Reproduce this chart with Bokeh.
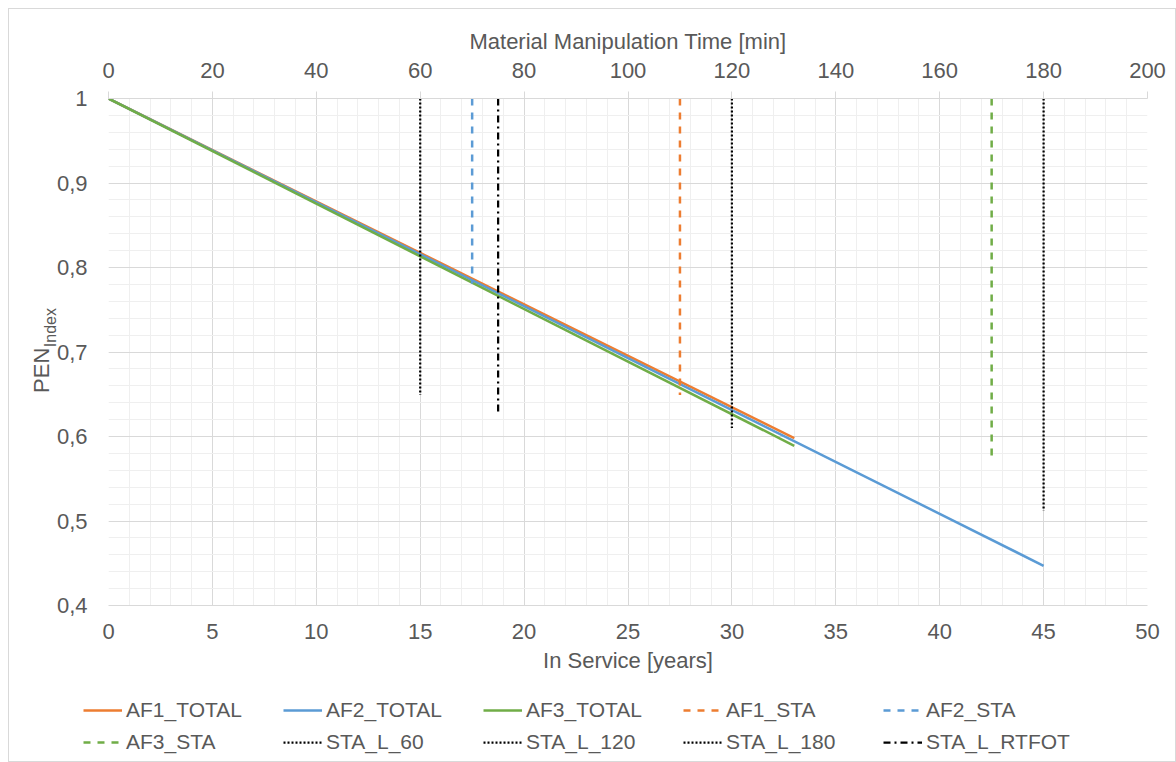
import numpy as np
from bokeh.plotting import figure
from bokeh.layouts import column
from bokeh.models import Range1d, LinearAxis, FixedTicker, Legend, LegendItem
from bokeh.embed import file_html
from bokeh.resources import INLINE

# ---------------- data ----------------
af1_years = [0, 33]
af1_pen = [1.0, 0.598]
af2_years = [0, 45]
af2_pen = [1.0, 0.447]
af3_years = [0, 33]
af3_pen = [1.0, 0.589]

# vertical limit lines, positioned on the top axis (minutes)
sta_names = ["AF1_STA", "AF2_STA", "AF3_STA", "STA_L_60", "STA_L_120", "STA_L_180", "STA_L_RTFOT"]
sta_minutes = [110, 70, 170, 60, 120, 180, 75]
sta_top = [1.0, 1.0, 1.0, 1.0, 1.0, 1.0, 1.0]
sta_bottom = [0.649, 0.781, 0.570, 0.649, 0.610, 0.512, 0.626]

x_ticks = [0, 5, 10, 15, 20, 25, 30, 35, 40, 45, 50]
top_ticks = [0, 20, 40, 60, 80, 100, 120, 140, 160, 180, 200]
y_ticks = [0.4, 0.5, 0.6, 0.7, 0.8, 0.9, 1.0]
y_tick_labels = ["0,4", "0,5", "0,6", "0,7", "0,8", "0,9", "1"]

legend_labels = ["AF1_TOTAL", "AF2_TOTAL", "AF3_TOTAL", "AF1_STA", "AF2_STA",
                 "AF3_STA", "STA_L_60", "STA_L_120", "STA_L_180", "STA_L_RTFOT"]

# ---------------- styles ----------------
FONT = "Liberation Sans"
TXT = "#595959"
MAJOR = "#d9d9d9"
MINOR = "#efefef"
ORANGE = "#ED7D31"
BLUE = "#5B9BD5"
GREEN = "#70AD47"
BLACK = "#000000"

styles = {
    "AF1_TOTAL": dict(line_color=ORANGE, line_width=2.5),
    "AF2_TOTAL": dict(line_color=BLUE, line_width=2.5),
    "AF3_TOTAL": dict(line_color=GREEN, line_width=2.5),
    "AF1_STA": dict(line_color=ORANGE, line_width=2.5, line_dash="7 7"),
    "AF2_STA": dict(line_color=BLUE, line_width=2.5, line_dash="7 7"),
    "AF3_STA": dict(line_color=GREEN, line_width=2.5, line_dash="7 7"),
    "STA_L_60": dict(line_color=BLACK, line_width=2.25, line_dash="2 2"),
    "STA_L_120": dict(line_color=BLACK, line_width=2.25, line_dash="2 2"),
    "STA_L_180": dict(line_color=BLACK, line_width=2.25, line_dash="2 2"),
    "STA_L_RTFOT": dict(line_color=BLACK, line_width=2.25, line_dash="7 4 2 4"),
}

W = 1166
H_PLOT = 671
H_LEG = 81

p = figure(width=W, height=H_PLOT,
           x_range=Range1d(0, 50), y_range=Range1d(0.4, 1.0),
           output_backend="svg", toolbar_location=None,
           min_border_left=99, min_border_right=28, min_border_top=89, min_border_bottom=75)
p.extra_x_ranges = {"min": Range1d(0, 200)}
p.outline_line_color = None
p.background_fill_color = "white"
p.border_fill_color = "white"

# bottom axis
xa = p.xaxis[0]
xa.ticker = FixedTicker(ticks=x_ticks, minor_ticks=list(np.arange(0, 51, 1)))
xa.axis_label = "In Service [years]"
# left axis
ya = p.yaxis[0]
ya.ticker = FixedTicker(ticks=y_ticks, minor_ticks=list(np.round(np.arange(0.4, 1.0001, 0.02), 2)))
ya.major_label_overrides = dict(zip(y_ticks, y_tick_labels))
ya.axis_line_color = None

# top axis
ta = LinearAxis(x_range_name="min", ticker=FixedTicker(ticks=top_ticks),
                axis_label="Material Manipulation Time [min]")
p.add_layout(ta, "above")

for ax in [xa, ya, ta]:
    ax.major_label_text_font = FONT
    ax.major_label_text_font_size = "22px"
    ax.major_label_text_color = TXT
    ax.axis_label_text_font = FONT
    ax.axis_label_text_font_size = "22px"
    ax.axis_label_text_color = TXT
    ax.axis_label_text_font_style = "normal"
    ax.minor_tick_line_color = None
    ax.major_tick_in = 0
xa.major_tick_line_color = None
xa.axis_line_color = MAJOR
xa.major_label_standoff = 12
xa.axis_label_standoff = 6
ya.major_tick_line_color = None
ya.major_tick_out = 0
ya.major_label_standoff = 17
ta.axis_line_color = MAJOR
ta.major_tick_line_color = MAJOR
ta.major_tick_out = 7
ta.major_label_standoff = 14
ta.axis_label_standoff = 6

# y axis title "PEN" with subscript "Index": two label-only axes.
# Axis labels are centred on the frame, so no-break spaces shift each part along it.
NBSP = "\u00a0"
def title_axis(text, size, standoff):
    ax = LinearAxis(ticker=FixedTicker(ticks=[]), axis_label=text,
                    axis_line_color=None, major_tick_line_color=None, minor_tick_line_color=None,
                    major_tick_out=0, major_tick_in=0, minor_tick_out=0, minor_tick_in=0,
                    axis_label_standoff=standoff,
                    axis_label_text_font=FONT, axis_label_text_font_size=size,
                    axis_label_text_color=TXT, axis_label_text_font_style="normal")
    p.add_layout(ax, "left")
    return ax

title_axis(NBSP * 11 + "Index", "16px", -5)
title_axis("PEN" + NBSP * 6, "22px", -15)

p.xgrid.grid_line_color = MAJOR
p.xgrid.minor_grid_line_color = MINOR
p.ygrid.grid_line_color = MAJOR
p.ygrid.minor_grid_line_color = MINOR

# ---------------- series ----------------
p.line(af1_years, af1_pen, **styles["AF1_TOTAL"])
p.line(af2_years, af2_pen, **styles["AF2_TOTAL"])
p.line(af3_years, af3_pen, **styles["AF3_TOTAL"])
for name, xm, y0, y1 in zip(sta_names, sta_minutes, sta_top, sta_bottom):
    p.line([xm, xm], [y0, y1], x_range_name="min", **styles[name])

# ---------------- legend strip (below the chart) ----------------
can_unalign = "frame_align" in p.properties()
lf = figure(width=W, height=H_LEG, x_range=Range1d(0, 1), y_range=Range1d(0, 1),
            output_backend="svg", toolbar_location=None, min_border=0,
            x_axis_location=None, y_axis_location=None)
if can_unalign:
    p.frame_align = False
    lf.frame_align = False
    leg_x = 74
else:
    lf.min_border_left = 99
    lf.min_border_right = 28
    leg_x = 0
lf.outline_line_color = None
lf.grid.visible = False
lf.border_fill_color = "white"
lf.background_fill_color = "white"
items = []
for lab in legend_labels:
    # legend-only renderer: a single NaN point draws nothing in the strip
    r = lf.line([np.nan], [np.nan], **styles[lab])
    items.append(LegendItem(label=lab, renderers=[r]))
legend = Legend(items=items, orientation="horizontal", ncols=5,
                location=(leg_x, 3),
                label_text_font=FONT, label_text_font_size="21px", label_text_color=TXT,
                glyph_width=39, glyph_height=32, label_height=32, label_width=157,
                label_standoff=4, spacing=0, padding=0, margin=0,
                border_line_color=None, background_fill_alpha=0)
lf.add_layout(legend)

layout = column(p, lf, spacing=0,
                styles={"border": "1px solid #d9d9d9", "margin-left": "8px", "margin-top": "8px"})

open("out.html", "w").write(file_html(layout, INLINE))
